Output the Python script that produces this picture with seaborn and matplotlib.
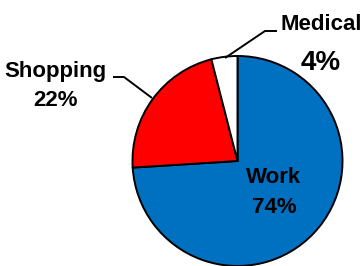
import matplotlib
matplotlib.use("Agg")
import matplotlib.pyplot as plt
import seaborn as sns

categories = ["Work", "Shopping", "Medical"]
shares = [74, 22, 4]
slice_colors = ["#0070C0", "#FF0000", "#FFFFFF"]

sns.set_theme(style="white")
plt.rcParams['font.family'] = ['Liberation Sans', 'DejaVu Sans']

W, H = 361, 266
fig = plt.figure(figsize=(W / 100, H / 100), dpi=100)
ax = fig.add_axes([0, 0, 1, 1])

cx, cy, r = 237.5, H - 161, 105
ax.pie(shares, colors=slice_colors, startangle=90, counterclock=False,
       center=(cx, cy), radius=r, frame=True,
       wedgeprops=dict(edgecolor="black", linewidth=1.4))
ax.set_xlim(0, W)
ax.set_ylim(0, H)
ax.set_axis_off()

def Y(y):
    return H - y

# label layout: (x, name baseline, pct baseline, pct size)
layout = {
    "Work": (274, 183, 213, 16),
    "Shopping": (55, 77, 106, 16),
    "Medical": (321, 30, 70, 20),
}
for cat, share in zip(categories, shares):
    x, yb1, yb2, psz = layout[cat]
    ax.text(x, Y(yb1), cat, ha="center", va="baseline", fontsize=16,
            fontweight="bold", color="black")
    ax.text(x, Y(yb2), f"{share}%", ha="center", va="baseline", fontsize=psz,
            fontweight="bold", color="black")

# leader lines
ax.plot([113, 124, 152], [Y(77), Y(77), Y(98)], color="black", lw=1.4,
        solid_capstyle="butt")
ax.plot([277, 265, 225], [Y(31), Y(31), Y(58)], color="black", lw=1.4,
        solid_capstyle="butt")

fig.savefig("out.png", dpi=100, facecolor="white")
